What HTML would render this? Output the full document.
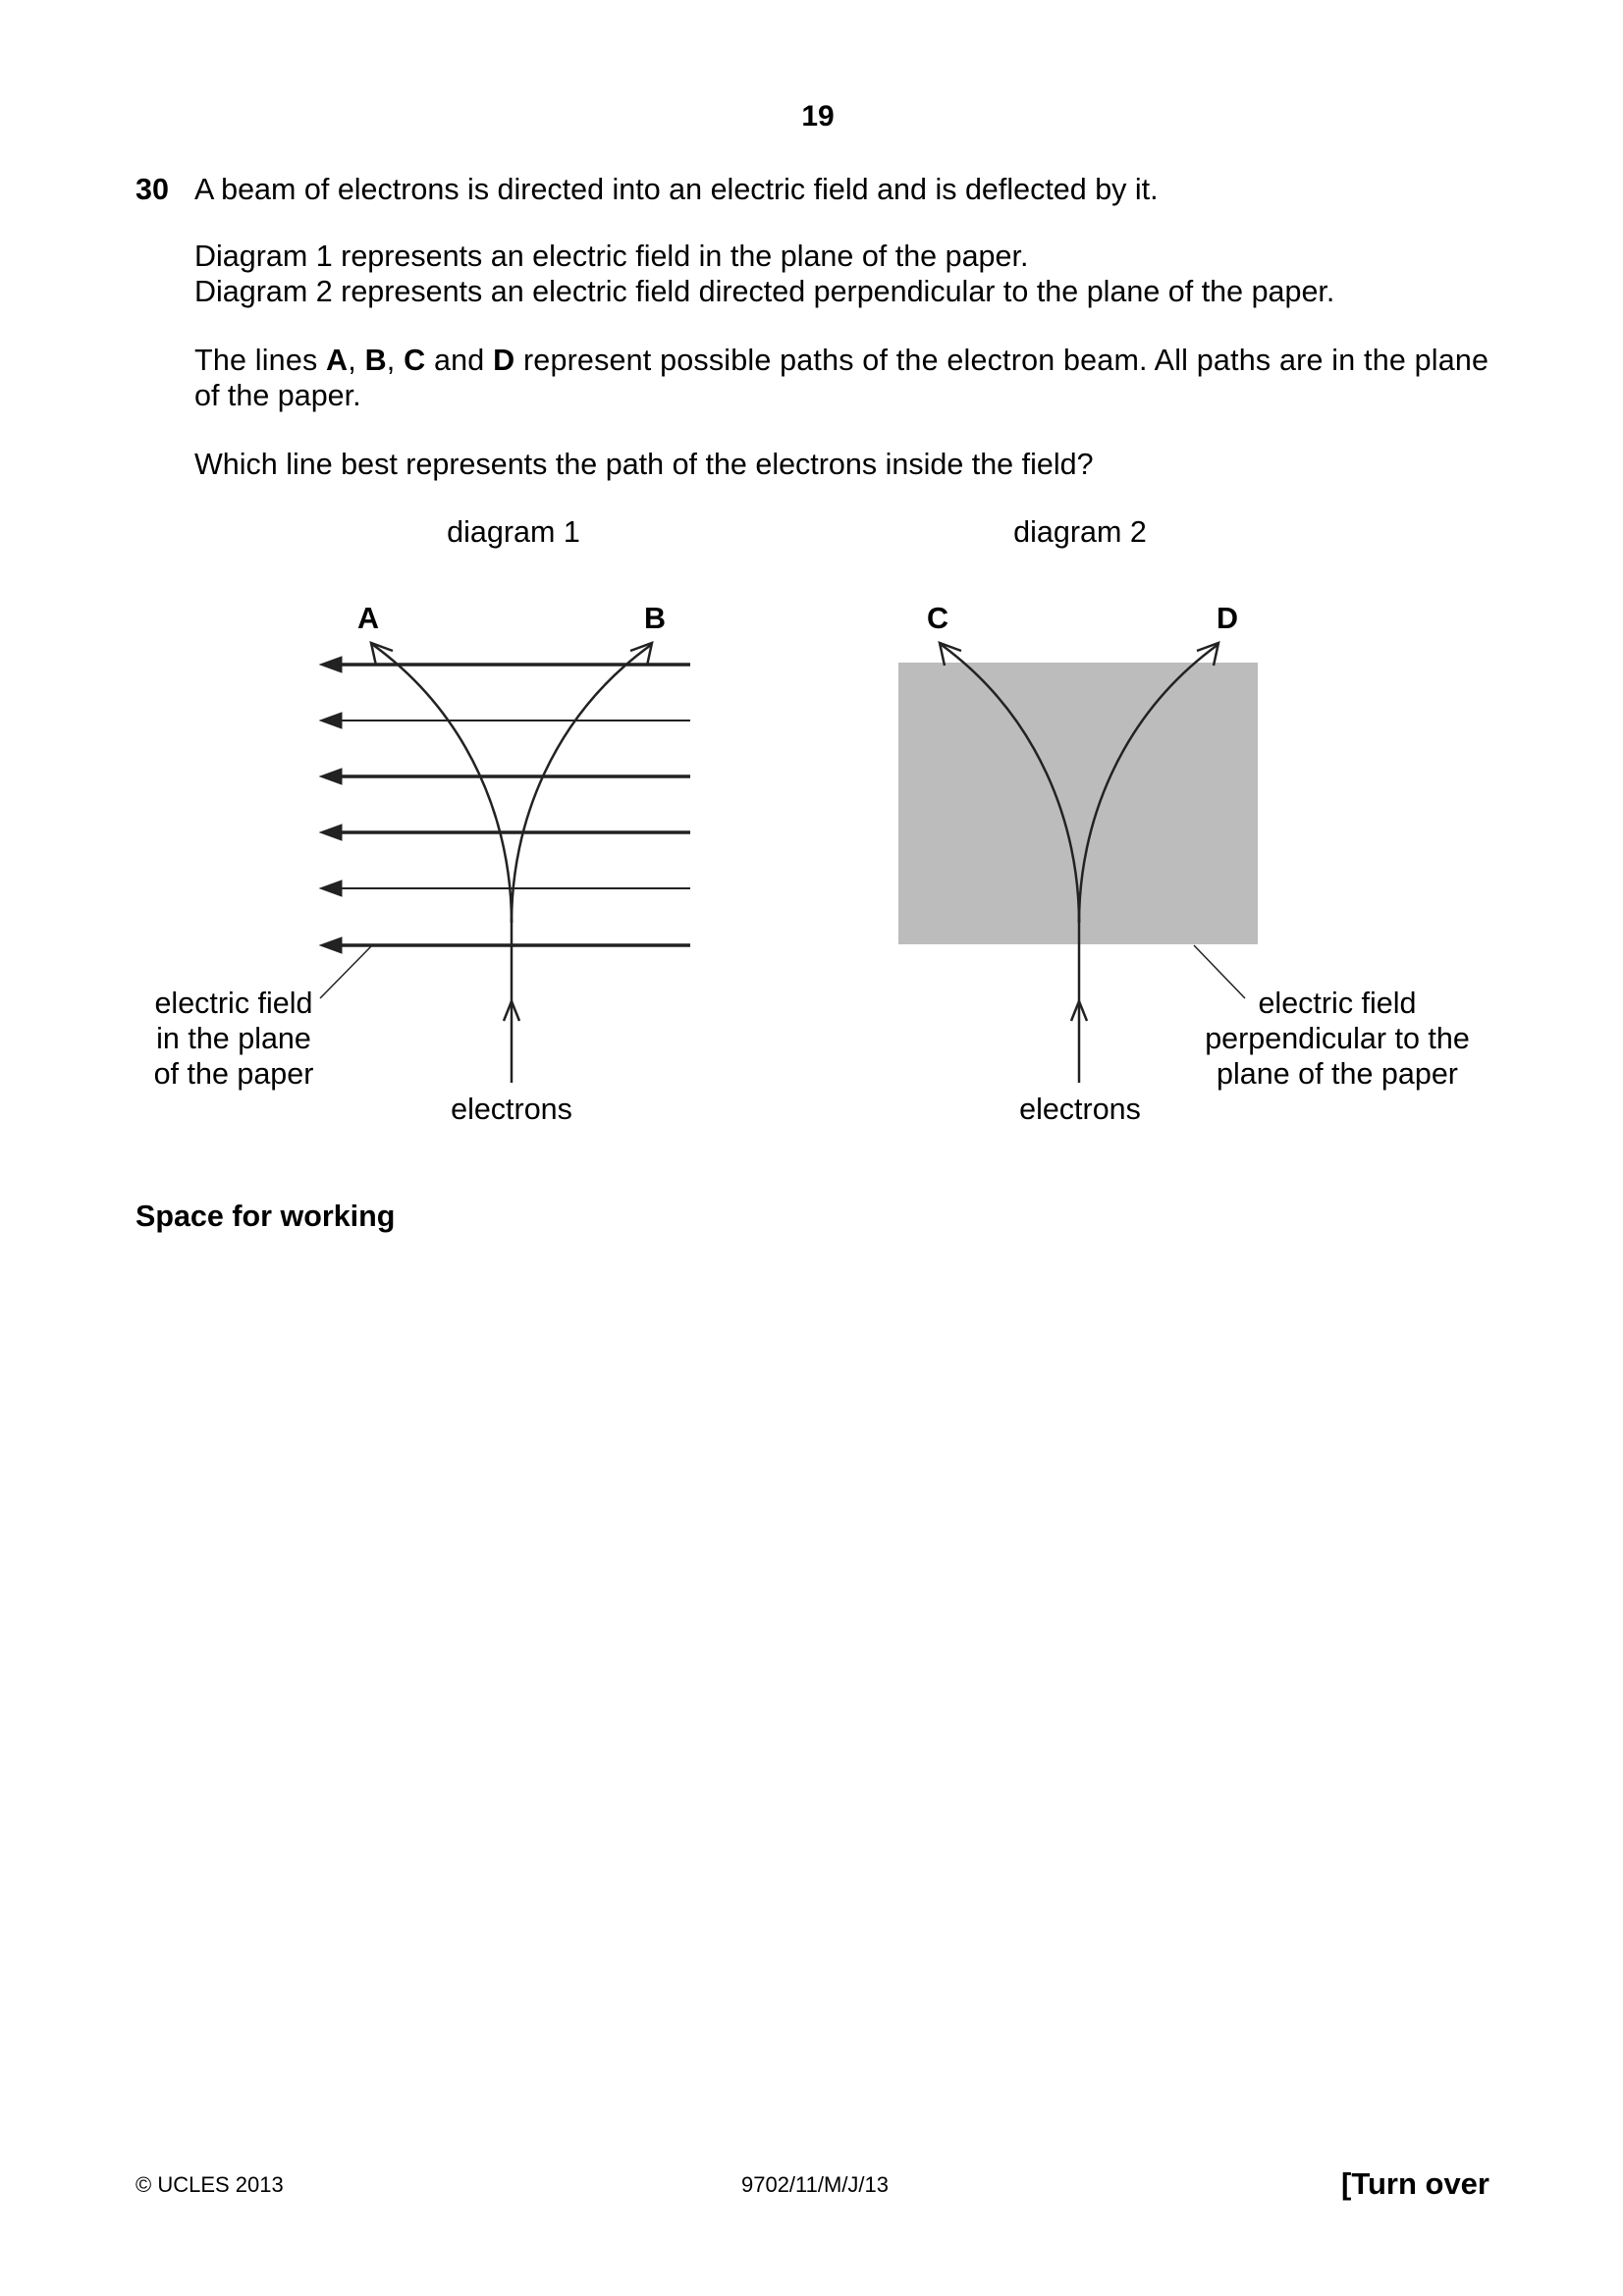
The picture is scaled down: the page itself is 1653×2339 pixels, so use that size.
<!DOCTYPE html>
<html><head><meta charset="utf-8"><style>
html,body{margin:0;padding:0;background:#fff}
svg{display:block}
text{font-family:"Liberation Sans",Arial,sans-serif;fill:#000}
</style></head><body>
<svg width="1653" height="2339" viewBox="0 0 1653 2339" xmlns="http://www.w3.org/2000/svg">
<text x="833" y="128" font-size="30" font-weight="bold" text-anchor="middle">19</text>
<g font-size="30.5">
<text x="138" y="203" font-weight="bold">30</text>
<text x="198" y="203">A beam of electrons is directed into an electric field and is deflected by it.</text>
<text x="198" y="271">Diagram 1 represents an electric field in the plane of the paper.</text>
<text x="198" y="307">Diagram 2 represents an electric field directed perpendicular to the plane of the paper.</text>
<text x="198" y="377" textLength="1318">The lines <tspan font-weight="bold">A</tspan>, <tspan font-weight="bold">B</tspan>, <tspan font-weight="bold">C</tspan> and <tspan font-weight="bold">D</tspan> represent possible paths of the electron beam. All paths are in the plane</text>
<text x="198" y="413">of the paper.</text>
<text x="198" y="483">Which line best represents the path of the electrons inside the field?</text>
</g>
<g font-size="30.5" text-anchor="middle">
<text x="523" y="552">diagram 1</text>
<text x="1100" y="552">diagram 2</text>
<text x="375" y="640" font-weight="bold">A</text>
<text x="667" y="640" font-weight="bold">B</text>
<text x="955" y="640" font-weight="bold">C</text>
<text x="1250" y="640" font-weight="bold">D</text>
</g>
<g>
<g stroke="#222" fill="#222">
<line x1="340" y1="677" x2="703" y2="677" stroke-width="3.5"/><path d="M326 677 L348 669 L348 685Z"/>
<line x1="340" y1="734" x2="703" y2="734" stroke-width="2"/><path d="M326 734 L348 726 L348 742Z"/>
<line x1="340" y1="791" x2="703" y2="791" stroke-width="3.5"/><path d="M326 791 L348 783 L348 799Z"/>
<line x1="340" y1="848" x2="703" y2="848" stroke-width="3.5"/><path d="M326 848 L348 840 L348 856Z"/>
<line x1="340" y1="905" x2="703" y2="905" stroke-width="2"/><path d="M326 905 L348 897 L348 913Z"/>
<line x1="340" y1="963" x2="703" y2="963" stroke-width="3.5"/><path d="M326 963 L348 955 L348 971Z"/>
</g>
<g stroke="#222" stroke-width="2.5" fill="none">
<path d="M521 1103 L521 936"/>
<path d="M513 1040 L521 1020 L529 1040"/>
<path d="M521 940 C521 840 480 730 380 657"/>
<path d="M383 678 L378 655 L400 663"/>
<path d="M521 940 C521 840 562 730 663 657"/>
<path d="M659 678 L664 655 L642 663"/>
<line x1="379" y1="963" x2="326" y2="1017" stroke-width="1.5"/>
</g>
</g>
<g>
<rect x="915" y="675" width="366" height="287" fill="#bcbcbc"/>
<g stroke="#222" stroke-width="2.5" fill="none">
<path d="M1099 1103 L1099 936"/>
<path d="M1091 1040 L1099 1020 L1107 1040"/>
<path d="M1099 940 C1099 840 1058 730 959 657"/>
<path d="M962 678 L957 655 L979 663"/>
<path d="M1099 940 C1099 840 1140 730 1240 657"/>
<path d="M1236 678 L1241 655 L1219 663"/>
<line x1="1216" y1="963" x2="1268" y2="1017" stroke-width="1.5"/>
</g>
</g>
<g font-size="30.5" text-anchor="middle">
<g>
<text x="238" y="1032">electric field</text>
<text x="238" y="1068">in the plane</text>
<text x="238" y="1104">of the paper</text>
</g>
<g>
<text x="1362" y="1032">electric field</text>
<text x="1362" y="1068">perpendicular to the</text>
<text x="1362" y="1104">plane of the paper</text>
</g>
<text x="521" y="1140">electrons</text>
<text x="1100" y="1140">electrons</text>
</g>
<text x="138" y="1249" font-size="30.5" font-weight="bold">Space for working</text>
<text x="138" y="2249" font-size="22" transform="translate(0,-16)">© UCLES 2013</text>
<text x="830" y="2233" font-size="22" text-anchor="middle">9702/11/M/J/13</text>
<text x="1517" y="2235" font-size="31" font-weight="bold" text-anchor="end">[Turn over</text>
</svg>
</body></html>
